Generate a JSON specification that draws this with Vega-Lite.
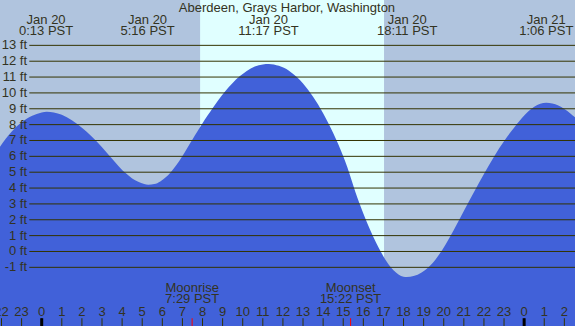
{
  "$schema": "https://vega.github.io/schema/vega-lite/v6.json",
  "width": 575,
  "height": 326,
  "autosize": {"type": "none"},
  "padding": 0,
  "background": "#b0c4de",
  "config": {"view": {"stroke": null}},
  "datasets": {
    "tide": [
      {"t": -2.2, "h": 6.35}, {"t": -2.075, "h": 6.6}, {"t": -1.8, "h": 7.1}, {"t": -1.5, "h": 7.55},
      {"t": -1.0, "h": 8.15}, {"t": -0.5, "h": 8.55}, {"t": 0.0, "h": 8.77}, {"t": 0.25, "h": 8.81},
      {"t": 0.6, "h": 8.77}, {"t": 1.0, "h": 8.62}, {"t": 1.5, "h": 8.28}, {"t": 2.0, "h": 7.8},
      {"t": 2.5, "h": 7.23}, {"t": 3.0, "h": 6.57}, {"t": 3.5, "h": 5.85}, {"t": 3.85, "h": 5.35},
      {"t": 4.2, "h": 4.91}, {"t": 4.5, "h": 4.6}, {"t": 4.8, "h": 4.39}, {"t": 5.1, "h": 4.25},
      {"t": 5.3, "h": 4.21}, {"t": 5.6, "h": 4.25}, {"t": 5.9, "h": 4.42}, {"t": 6.2, "h": 4.71},
      {"t": 6.42, "h": 5.0}, {"t": 6.7, "h": 5.45}, {"t": 6.97, "h": 5.96}, {"t": 7.25, "h": 6.54},
      {"t": 7.5, "h": 7.06}, {"t": 7.75, "h": 7.58}, {"t": 8.0, "h": 8.08}, {"t": 8.25, "h": 8.57},
      {"t": 8.5, "h": 9.04}, {"t": 8.8, "h": 9.57}, {"t": 9.12, "h": 10.09}, {"t": 9.5, "h": 10.63},
      {"t": 9.83, "h": 11.03}, {"t": 10.2, "h": 11.39}, {"t": 10.6, "h": 11.66}, {"t": 11.0, "h": 11.8},
      {"t": 11.3, "h": 11.83}, {"t": 11.8, "h": 11.71}, {"t": 12.3, "h": 11.4}, {"t": 12.69, "h": 11.0},
      {"t": 13.0, "h": 10.59}, {"t": 13.5, "h": 9.76}, {"t": 14.0, "h": 8.72}, {"t": 14.5, "h": 7.47},
      {"t": 15.0, "h": 6.0}, {"t": 15.2, "h": 5.32}, {"t": 15.4, "h": 4.55}, {"t": 15.6, "h": 3.77},
      {"t": 15.8, "h": 3.05}, {"t": 16.0, "h": 2.39}, {"t": 16.25, "h": 1.62}, {"t": 16.5, "h": 0.92},
      {"t": 16.75, "h": 0.27}, {"t": 17.0, "h": -0.31}, {"t": 17.25, "h": -0.8}, {"t": 17.5, "h": -1.19},
      {"t": 17.75, "h": -1.45}, {"t": 18.0, "h": -1.59}, {"t": 18.16, "h": -1.61}, {"t": 18.5, "h": -1.55},
      {"t": 18.9, "h": -1.32}, {"t": 19.23, "h": -1.01}, {"t": 19.45, "h": -0.73}, {"t": 19.7, "h": -0.32},
      {"t": 20.1, "h": 0.46}, {"t": 20.5, "h": 1.36}, {"t": 21.0, "h": 2.55}, {"t": 21.5, "h": 3.73},
      {"t": 22.0, "h": 4.89}, {"t": 22.5, "h": 5.98}, {"t": 23.05, "h": 7.04}, {"t": 23.35, "h": 7.56},
      {"t": 23.63, "h": 8.03}, {"t": 23.9, "h": 8.44}, {"t": 24.2, "h": 8.83}, {"t": 24.5, "h": 9.13},
      {"t": 24.8, "h": 9.31}, {"t": 25.1, "h": 9.38}, {"t": 25.4, "h": 9.33}, {"t": 25.7, "h": 9.2},
      {"t": 26.0, "h": 8.98}, {"t": 26.3, "h": 8.7}, {"t": 26.6, "h": 8.38}, {"t": 26.8, "h": 8.15}
    ],
    "grid": [
      {"ft": 13, "label": "13 ft"}, {"ft": 12, "label": "12 ft"}, {"ft": 11, "label": "11 ft"},
      {"ft": 10, "label": "10 ft"}, {"ft": 9, "label": "9 ft"}, {"ft": 8, "label": "8 ft"},
      {"ft": 7, "label": "7 ft"}, {"ft": 6, "label": "6 ft"}, {"ft": 5, "label": "5 ft"},
      {"ft": 4, "label": "4 ft"}, {"ft": 3, "label": "3 ft"}, {"ft": 2, "label": "2 ft"},
      {"ft": 1, "label": "1 ft"}, {"ft": 0, "label": "0 ft"}, {"ft": -1, "label": "-1 ft"}
    ],
    "events": [
      {"t": 0.217, "l1": "Jan 20", "l2": "0:13 PST"},
      {"t": 5.267, "l1": "Jan 20", "l2": "5:16 PST"},
      {"t": 11.283, "l1": "Jan 20", "l2": "11:17 PST"},
      {"t": 18.183, "l1": "Jan 20", "l2": "18:11 PST"},
      {"t": 25.1, "l1": "Jan 21", "l2": "1:06 PST"}
    ],
    "moon": [
      {"t": 7.483, "l1": "Moonrise", "l2": "7:29 PST"},
      {"t": 15.367, "l1": "Moonset", "l2": "15:22 PST"}
    ],
    "hours": [
      {"t": -2, "label": "22"}, {"t": -1, "label": "23"}, {"t": 0, "label": "0"}, {"t": 1, "label": "1"},
      {"t": 2, "label": "2"}, {"t": 3, "label": "3"}, {"t": 4, "label": "4"}, {"t": 5, "label": "5"},
      {"t": 6, "label": "6"}, {"t": 7, "label": "7"}, {"t": 8, "label": "8"}, {"t": 9, "label": "9"},
      {"t": 10, "label": "10"}, {"t": 11, "label": "11"}, {"t": 12, "label": "12"}, {"t": 13, "label": "13"},
      {"t": 14, "label": "14"}, {"t": 15, "label": "15"}, {"t": 16, "label": "16"}, {"t": 17, "label": "17"},
      {"t": 18, "label": "18"}, {"t": 19, "label": "19"}, {"t": 20, "label": "20"}, {"t": 21, "label": "21"},
      {"t": 22, "label": "22"}, {"t": 23, "label": "23"}, {"t": 24, "label": "0"}, {"t": 25, "label": "1"},
      {"t": 26, "label": "2"}
    ],
    "day": [{"rise": 7.88, "set": 17.03}],
    "title": [{"t": 12.2, "text": "Aberdeen, Grays Harbor, Washington"}]
  },
  "layer": [
    {
      "data": {"name": "day"},
      "mark": {"type": "rect", "color": "#e0ffff"},
      "encoding": {
        "x": {"field": "rise", "type": "quantitative", "axis": null,
              "scale": {"domain": [-2.075, 26.53], "nice": false, "zero": false}},
        "x2": {"field": "set"},
        "y": {"datum": 15.86, "type": "quantitative", "axis": null,
              "scale": {"domain": [-4.70, 15.86], "nice": false, "zero": false}},
        "y2": {"datum": -4.70}
      }
    },
    {
      "data": {"name": "tide"},
      "mark": {"type": "area", "color": "#4161d9", "interpolate": "monotone", "clip": true},
      "encoding": {
        "x": {"field": "t", "type": "quantitative", "axis": null},
        "y": {"field": "h", "type": "quantitative", "axis": null},
        "y2": {"datum": -4.70}
      }
    },
    {
      "data": {"name": "grid"},
      "mark": {"type": "rule", "color": "#333300", "strokeWidth": 1},
      "encoding": {
        "x": {"datum": -0.617, "type": "quantitative", "axis": null},
        "x2": {"datum": 26.53},
        "y": {"field": "ft", "type": "quantitative", "axis": null}
      }
    },
    {
      "data": {"name": "grid"},
      "mark": {"type": "text", "align": "right", "baseline": "middle", "font": "Liberation Sans", "fontSize": 13, "color": "#333322"},
      "encoding": {
        "x": {"datum": -0.73, "type": "quantitative", "axis": null},
        "y": {"field": "ft", "type": "quantitative", "axis": null},
        "text": {"field": "label"}
      }
    },
    {
      "data": {"name": "title"},
      "mark": {"type": "text", "align": "center", "baseline": "middle", "font": "Liberation Sans", "fontSize": 13, "color": "#333322"},
      "encoding": {
        "x": {"field": "t", "type": "quantitative", "axis": null},
        "y": {"datum": 15.33, "type": "quantitative", "axis": null},
        "text": {"field": "text"}
      }
    },
    {
      "data": {"name": "events"},
      "mark": {"type": "text", "align": "center", "baseline": "middle", "font": "Liberation Sans", "fontSize": 13, "color": "#333322"},
      "encoding": {
        "x": {"field": "t", "type": "quantitative", "axis": null},
        "y": {"datum": 14.58, "type": "quantitative", "axis": null},
        "text": {"field": "l1"}
      }
    },
    {
      "data": {"name": "events"},
      "mark": {"type": "text", "align": "center", "baseline": "middle", "font": "Liberation Sans", "fontSize": 13, "color": "#333322"},
      "encoding": {
        "x": {"field": "t", "type": "quantitative", "axis": null},
        "y": {"datum": 13.88, "type": "quantitative", "axis": null},
        "text": {"field": "l2"}
      }
    },
    {
      "data": {"name": "moon"},
      "mark": {"type": "text", "align": "center", "baseline": "middle", "font": "Liberation Sans", "fontSize": 13, "color": "#333322"},
      "encoding": {
        "x": {"field": "t", "type": "quantitative", "axis": null},
        "y": {"datum": -2.30, "type": "quantitative", "axis": null},
        "text": {"field": "l1"}
      }
    },
    {
      "data": {"name": "moon"},
      "mark": {"type": "text", "align": "center", "baseline": "middle", "font": "Liberation Sans", "fontSize": 13, "color": "#333322"},
      "encoding": {
        "x": {"field": "t", "type": "quantitative", "axis": null},
        "y": {"datum": -2.99, "type": "quantitative", "axis": null},
        "text": {"field": "l2"}
      }
    },
    {
      "data": {"name": "hours"},
      "mark": {"type": "text", "align": "center", "baseline": "middle", "font": "Liberation Sans", "fontSize": 13, "color": "#333322"},
      "encoding": {
        "x": {"field": "t", "type": "quantitative", "axis": null},
        "y": {"datum": -3.82, "type": "quantitative", "axis": null},
        "text": {"field": "label"}
      }
    },
    {
      "data": {"name": "hours"},
      "mark": {"type": "rule", "color": "#333300", "strokeWidth": 1},
      "encoding": {
        "x": {"field": "t", "type": "quantitative", "axis": null},
        "y": {"datum": -4.21, "type": "quantitative", "axis": null},
        "y2": {"datum": -4.70}
      }
    },
    {
      "data": {"name": "hours"},
      "transform": [{"filter": "datum.t == 0 || datum.t == 24"}],
      "mark": {"type": "rule", "color": "#000000", "strokeWidth": 3},
      "encoding": {
        "x": {"field": "t", "type": "quantitative", "axis": null},
        "y": {"datum": -4.21, "type": "quantitative", "axis": null},
        "y2": {"datum": -4.70}
      }
    },
    {
      "data": {"name": "moon"},
      "mark": {"type": "rule", "color": "#ff0000", "strokeWidth": 1},
      "encoding": {
        "x": {"field": "t", "type": "quantitative", "axis": null},
        "y": {"datum": -4.21, "type": "quantitative", "axis": null},
        "y2": {"datum": -4.70}
      }
    }
  ]
}
